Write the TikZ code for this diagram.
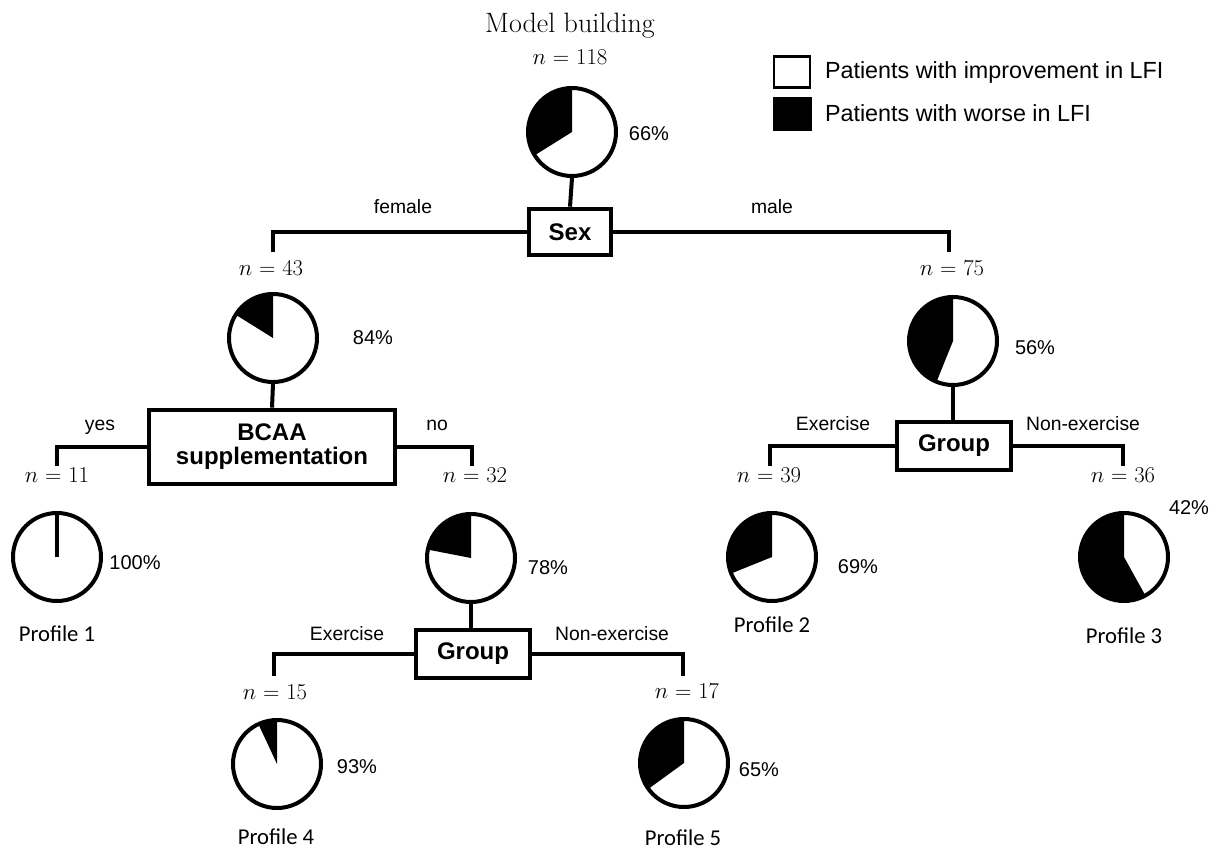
\documentclass[tikz,border=0pt]{standalone}
\usepackage{fontspec}
\setsansfont{Liberation Sans}
\newfontfamily\calfont{Carlito}
\begin{document}
\begin{tikzpicture}[x=0.75pt,y=0.75pt,
  line width=3pt,
  pie/.style={circle,draw,line width=3pt,minimum size=66pt,inner sep=0pt},
  splitbox/.style={draw,line width=3pt,font=\sffamily\bfseries\fontsize{18}{20}\selectfont,align=center,inner sep=0pt},
  lab/.style={font=\sffamily\fontsize{14.5}{17}\selectfont,inner sep=0pt},
  pct/.style={font=\sffamily\fontsize{15}{17}\selectfont,inner sep=0pt},
  nlab/.style={font=\fontsize{17}{19}\selectfont,inner sep=0pt,anchor=base},
  prof/.style={font=\calfont\fontsize{17}{20}\selectfont,inner sep=0pt},
  leg/.style={font=\sffamily\fontsize{17.5}{20}\selectfont,inner sep=0pt,anchor=west},
  conn/.style={line width=3pt,line cap=butt}]
\useasboundingbox (0,0) rectangle (1216,-852);

% wedge macro: center x, center y, end angle
\newcommand{\blackwedge}[3]{\fill[black] (#1,#2) -- ++(90:44) arc[start angle=90,end angle=#3,radius=44] -- cycle;}

% titles
\node[font=\fontsize{21}{24}\selectfont,inner sep=0pt,anchor=base] (title) at (570,-33) {Model building};
\node[nlab] (n0) at (570,-65) {$n$ = 118};

% legend
\node[draw,line width=2.2pt,minimum width=27pt,minimum height=23pt,inner sep=0pt] (lw) at (792,-72) {};
\node[fill=black,minimum width=29pt,minimum height=25.5pt,inner sep=0pt] (lb) at (792.5,-114) {};
\node[leg] (lwt) at (823,-72) {Patients with improvement in LFI};
\node[leg] (lbt) at (823,-113) {Patients with worse in LFI};

% pies
\blackwedge{572}{-132}{212}
\node[pie] (p0) at (572,-132) {};
\node[pct] (q0) at (649,-134) {66\%};

\blackwedge{273}{-338}{148}
\node[pie] (pF) at (273,-338) {};
\node[pct] (qF) at (373,-338) {84\%};

\blackwedge{953}{-341}{248}
\node[pie] (pM) at (953,-341) {};
\node[pct] (qM) at (1035,-348) {56\%};

\node[pie] (p11) at (57,-557) {};
\draw[conn] (p11.center) -- (p11.north);
\node[pct] (q11) at (135,-563) {100\%};

\blackwedge{471}{-558}{169}
\node[pie] (p32) at (471,-558) {};
\node[pct] (q32) at (548,-568) {78\%};

\blackwedge{772}{-557}{202}
\node[pie] (p39) at (772,-557) {};
\node[pct] (q39) at (858,-567) {69\%};

\blackwedge{1124}{-557}{299}
\node[pie] (p36) at (1124,-557) {};
\node[pct] (q36) at (1189,-508) {42\%};

\blackwedge{277}{-764}{115}
\node[pie] (p15) at (277,-764) {};
\node[pct] (q15) at (357,-767) {93\%};

\blackwedge{684}{-763}{216}
\node[pie] (p17) at (684,-763) {};
\node[pct] (q17) at (759,-770) {65\%};

% split boxes
\node[splitbox,minimum width=61pt,minimum height=35pt] (sex) at (570,-232) {Sex};
\node[splitbox,minimum width=185pt,minimum height=56pt] (bcaa) at (272,-447) {BCAA\\[-2pt]supplementation};
\node[splitbox,minimum width=85pt,minimum height=35.5pt] (grpM) at (954,-446) {Group};
\node[splitbox,minimum width=86pt,minimum height=36pt] (grpL) at (473,-654) {Group};

% branch end points
\coordinate (cF) at (273,-252);
\coordinate (cM) at (949,-252);
\coordinate (c11) at (57,-466);
\coordinate (c32) at (472,-466);
\coordinate (c39) at (770,-466);
\coordinate (c36) at (1123,-466);
\coordinate (c15) at (274,-676);
\coordinate (c17) at (683,-676);

% connectors
\draw[conn] (p0.south) -- (sex.north);
\draw[conn] (pF.south) -- (bcaa.north);
\draw[conn] (pM.south) -- (pM.south |- grpM.north);
\draw[conn] (p32.south) -- (p32.south |- grpL.north);
\draw[conn] (sex.west) -| (cF);
\draw[conn] (sex.east) -| (cM);
\draw[conn] (bcaa.west) -| (c11);
\draw[conn] (bcaa.east) -| (c32);
\draw[conn] (grpM.west) -| (c39);
\draw[conn] (grpM.east) -| (c36);
\draw[conn] (grpL.west) -| (c15);
\draw[conn] (grpL.east) -| (c17);

% branch labels
\node[lab] (lfem) at (403,-207) {female};
\node[lab] (lmale) at (772,-207) {male};
\node[lab,anchor=base] (lyes) at (100,-430) {yes};
\node[lab,anchor=base] (lno) at (437,-430) {no};
\node[lab,anchor=base] (lexM) at (833,-430) {Exercise};
\node[lab,anchor=base] (lneM) at (1083,-430) {Non-exercise};
\node[lab,anchor=base] (lexL) at (347,-640) {Exercise};
\node[lab,anchor=base] (lneL) at (612,-640) {Non-exercise};

% n labels
\node[nlab] (n43) at (271,-275) {$n$ = 43};
\node[nlab] (n75) at (952,-275) {$n$ = 75};
\node[nlab] (n11) at (57,-482) {$n$ = 11};
\node[nlab] (n32) at (475,-482) {$n$ = 32};
\node[nlab] (n39) at (769,-482) {$n$ = 39};
\node[nlab] (n36) at (1123,-482) {$n$ = 36};
\node[nlab] (n15) at (275,-699) {$n$ = 15};
\node[nlab] (n17) at (687,-698) {$n$ = 17};

% profiles
\node[prof] (pr1) at (57,-634) {Profile 1};
\node[prof] (pr2) at (772,-625) {Profile 2};
\node[prof] (pr3) at (1124,-636) {Profile 3};
\node[prof] (pr4) at (276,-837) {Profile 4};
\node[prof] (pr5) at (683,-838) {Profile 5};
\end{tikzpicture}
\end{document}
